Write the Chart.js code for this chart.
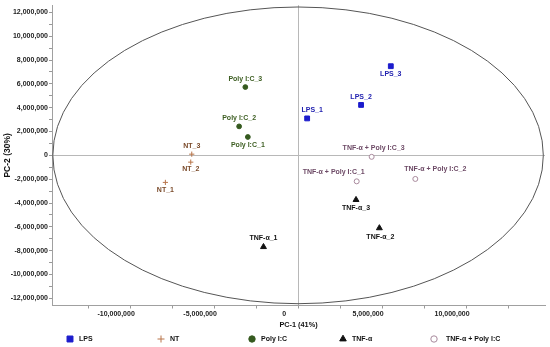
<!DOCTYPE html>
<html>
<head>
<meta charset="utf-8">
<script src="https://cdn.jsdelivr.net/npm/chart.js@4.4.1/dist/chart.umd.min.js"></script>
<style>
  html, body { margin: 0; padding: 0; background: #fff; }
  #wrap { width: 550px; height: 347px; position: relative; }
</style>
</head>
<body>
<div id="wrap"><canvas id="pcaChart"></canvas></div>
<script>
// PCA scores (PC-1, PC-2)
const groupNames = ['LPS', 'NT', 'Poly I:C', 'TNF-α', 'TNF-α + Poly I:C'];

const lpsX = [540000, 3750000, 5520000];
const lpsY = [3100000, 4230000, 7480000];
const lpsNames = ['LPS_1', 'LPS_2', 'LPS_3'];

const ntX = [-7900000, -6390000, -6330000];
const ntY = [-2270000, -570000, 100000];
const ntNames = ['NT_1', 'NT_2', 'NT_3'];

const polyX = [-2990000, -3510000, -3140000];
const polyY = [1540000, 2430000, 5730000];
const polyNames = ['Poly I:C_1', 'Poly I:C_2', 'Poly I:C_3'];

const tnfX = [-2060000, 4840000, 3450000];
const tnfY = [-7680000, -6100000, -3730000];
const tnfNames = ['TNF-α_1', 'TNF-α_2', 'TNF-α_3'];

const comboX = [3490000, 6980000, 4380000];
const comboY = [-2180000, -1980000, -125000];
const comboNames = ['TNF-α + Poly I:C_1', 'TNF-α + Poly I:C_2', 'TNF-α + Poly I:C_3'];

// axis ticks that carry a label
const xTickLabels = [-10000000, -5000000, 0, 5000000, 10000000];
const yTickLabels = [-12000000, -10000000, -8000000, -6000000, -4000000, -2000000, 0,
                     2000000, 4000000, 6000000, 8000000, 10000000, 12000000];
// minor tick spacing
const xMinorStep = 2500000;
const yMinorStep = 1000000;

// Hotelling ellipse semi-axes
const ellipseA = 14600000;
const ellipseB = 12450000;

// where each point label sits relative to its marker (pixels)
const labelNudge = {
    'LPS_1': [5, -8], 'LPS_2': [0, -8], 'LPS_3': [0, 8],
    'NT_1': [0, 8], 'NT_2': [0, 7], 'NT_3': [0, -8],
    'Poly I:C_1': [0, 8], 'Poly I:C_2': [0, -8], 'Poly I:C_3': [0, -8],
    'TNF-α_1': [0, -9], 'TNF-α_2': [1, 9], 'TNF-α_3': [0, 8],
    'TNF-α + Poly I:C_1': [-23, -9], 'TNF-α + Poly I:C_2': [20, -10], 'TNF-α + Poly I:C_3': [2, -9]
};

const FONT = 'Liberation Sans, Arial, sans-serif';

function toPoints(xs, ys, names) {
    return xs.map((x, i) => ({ x: x, y: ys[i], name: names[i] }));
}

// ticks every `step` from first to last
function tickSetter(first, last, step) {
    return function(scale) {
        const out = [];
        for (let v = first; v <= last + 1; v += step) out.push({ value: v });
        scale.ticks = out;
    };
}

const ellipsePlugin = {
    id: 'ellipse',
    beforeDatasetsDraw(chart) {
        const ctx = chart.ctx;
        const xs = chart.scales.x, ys = chart.scales.y;
        const cx = xs.getPixelForValue(0), cy = ys.getPixelForValue(0);
        const rx = xs.getPixelForValue(ellipseA) - cx;
        const ry = cy - ys.getPixelForValue(ellipseB);
        ctx.save();
        ctx.strokeStyle = '#555';
        ctx.lineWidth = 1;
        ctx.beginPath();
        ctx.ellipse(cx, cy, rx, ry, 0, 0, Math.PI * 2);
        ctx.stroke();
        ctx.restore();
    }
};

const pointLabelPlugin = {
    id: 'pointLabels',
    afterDatasetsDraw(chart) {
        const ctx = chart.ctx;
        ctx.save();
        ctx.font = 'bold 7px ' + FONT;
        ctx.textAlign = 'center';
        ctx.textBaseline = 'middle';
        chart.data.datasets.forEach((ds, di) => {
            const meta = chart.getDatasetMeta(di);
            ctx.fillStyle = ds.labelColor;
            meta.data.forEach((el, i) => {
                const name = ds.data[i].name;
                const n = labelNudge[name] || [0, -8];
                ctx.fillText(name, el.x + n[0], el.y + n[1]);
            });
        });
        ctx.restore();
    }
};

const legendPlugin = {
    id: 'bottomLegend',
    afterDraw(chart) {
        const ctx = chart.ctx;
        const y = chart.height - 8;
        ctx.save();
        chart.data.datasets.forEach((ds, i) => {
            const x = 70 + i * 91;
            ctx.fillStyle = ds.backgroundColor;
            ctx.strokeStyle = ds.borderColor;
            ctx.lineWidth = ds.borderWidth;
            Chart.helpers.drawPoint(ctx, {
                pointStyle: ds.pointStyle,
                radius: ds.legendRadius,
                borderWidth: ds.borderWidth,
                rotation: 0
            }, x, y);
            ctx.fillStyle = '#111';
            ctx.font = 'bold 7px ' + FONT;
            ctx.textAlign = 'left';
            ctx.textBaseline = 'middle';
            ctx.fillText(ds.label, x + (i === 4 ? 12 : 9), y);
        });
        ctx.restore();
    }
};

function fmt(v) {
    return Math.round(v).toLocaleString('en-US');
}

function isLabelTick(list, v) {
    return list.some(t => Math.abs(t - v) < 1);
}

function zeroGrid(c) {
    return (c.tick && Math.abs(c.tick.value) < 1) ? '#b8b8b8' : 'rgba(255,255,255,0)';
}

const ctx = document.getElementById('pcaChart').getContext('2d');
const chart = new Chart(ctx, {
    type: 'scatter',
    data: {
        datasets: [{
            label: groupNames[0],
            data: toPoints(lpsX, lpsY, lpsNames),
            pointStyle: 'rect',
            pointRadius: 3.4,
            legendRadius: 4.2,
            backgroundColor: '#1c1ccc',
            borderColor: '#1c1ccc',
            borderWidth: 1,
            labelColor: '#2222b0'
        }, {
            label: groupNames[1],
            data: toPoints(ntX, ntY, ntNames),
            pointStyle: 'cross',
            pointRadius: 2.6,
            legendRadius: 3.5,
            backgroundColor: '#b8754a',
            borderColor: '#b8754a',
            borderWidth: 1,
            labelColor: '#7a4a2a'
        }, {
            label: groupNames[2],
            data: toPoints(polyX, polyY, polyNames),
            pointStyle: 'circle',
            pointRadius: 2.4,
            legendRadius: 3.2,
            backgroundColor: '#355a1f',
            borderColor: '#355a1f',
            borderWidth: 1,
            labelColor: '#3d5e22'
        }, {
            label: groupNames[3],
            data: toPoints(tnfX, tnfY, tnfNames),
            pointStyle: 'triangle',
            pointRadius: 3.4,
            legendRadius: 3.8,
            backgroundColor: '#111',
            borderColor: '#111',
            borderWidth: 1,
            labelColor: '#111'
        }, {
            label: groupNames[4],
            data: toPoints(comboX, comboY, comboNames),
            pointStyle: 'circle',
            pointRadius: 2.5,
            legendRadius: 3.2,
            backgroundColor: '#fff',
            borderColor: '#a8899c',
            borderWidth: 1,
            labelColor: '#6d4a66'
        }]
    },
    options: {
        responsive: true,
        maintainAspectRatio: false,
        animation: false,
        layout: { padding: { left: 0, right: 5, top: 3, bottom: 18 } },
        scales: {
            x: {
                type: 'linear',
                min: -14650000,
                max: 14700000,
                afterBuildTicks: tickSetter(xTickLabels[0] - xMinorStep, xTickLabels[xTickLabels.length - 1] + xMinorStep, xMinorStep),
                afterFit: function(s) { s.height = 23.5; },
                ticks: {
                    autoSkip: false,
                    maxRotation: 0,
                    labelOffset: -14,
                    padding: 1,
                    color: '#222',
                    font: { family: FONT, weight: 'bold', size: 7 },
                    callback: function(v) { return isLabelTick(xTickLabels, v) ? fmt(v) : ''; }
                },
                grid: { color: zeroGrid, tickColor: '#999', tickLength: 3 },
                border: { display: true, color: '#a0a0a0' },
                title: {
                    display: true,
                    text: 'PC-1 (41%)',
                    color: '#111',
                    font: { family: FONT, weight: 'bold', size: 7.3 },
                    padding: { top: 0, bottom: 0 }
                }
            },
            y: {
                type: 'linear',
                min: -12600000,
                max: 12600000,
                afterBuildTicks: tickSetter(yTickLabels[0], yTickLabels[yTickLabels.length - 1], yMinorStep),
                afterFit: function(s) { s.width = 52; },
                ticks: {
                    autoSkip: false,
                    padding: 1,
                    color: '#222',
                    font: { family: FONT, weight: 'bold', size: 7 },
                    callback: function(v) { return isLabelTick(yTickLabels, v) ? fmt(v) : ''; }
                },
                grid: { color: zeroGrid, tickColor: '#999', tickLength: 3 },
                border: { display: true, color: '#a0a0a0' },
                title: {
                    display: true,
                    text: 'PC-2 (30%)',
                    color: '#111',
                    font: { family: FONT, weight: 'bold', size: 8.5 },
                    padding: { top: 3, bottom: 0 }
                }
            }
        },
        plugins: {
            legend: { display: false },
            tooltip: { enabled: false }
        }
    },
    plugins: [ellipsePlugin, pointLabelPlugin, legendPlugin]
});
</script>
</body>
</html>
